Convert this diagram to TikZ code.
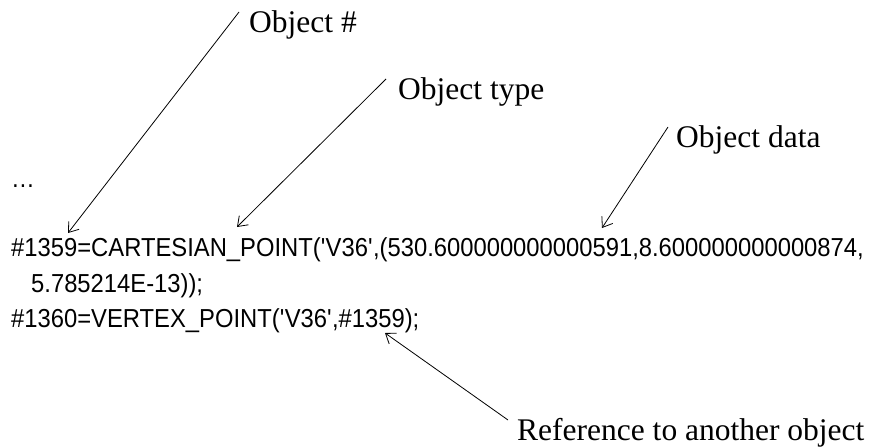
\documentclass[tikz,border=0pt]{standalone}
\usepackage{fontspec}
\setmainfont{Liberation Serif}
\newfontfamily\codefont[FakeStretch=0.915]{Liberation Sans}
\usetikzlibrary{arrows.meta}
\tikzset{
  lbl/.style={anchor=base west, inner sep=0pt, font=\fontsize{31.5}{31.5}\selectfont},
  code/.style={anchor=base west, inner sep=0pt, font=\codefont\fontsize{26}{26}\selectfont},
  callout/.style={line width=0.8pt, -{Straight Barb[length=9pt,width=13pt,line width=0.8pt]}}
}
\begin{document}
\begin{tikzpicture}[x=1pt,y=-1pt]
\useasboundingbox (0,0) rectangle (873,447);
% labels
\node[lbl] (lnum) at (249,32) {Object \#};
\node[lbl] (ltype) at (398,99) {Object type};
\node[lbl] (ldata) at (676,147) {Object data};
\node[lbl] (lref) at (517,440) {Reference to another object};
% code
\node[code] (dots) at (11,187) {…};
\node[code] (c1) at (11,256) {\#1359=CARTESIAN\_POINT(\textquotesingle V36\textquotesingle,(530.600000000000591,8.600000000000874,};
\node[code] (c2) at (31,292) {5.785214E-13));};
\node[code] (c3) at (11,327) {\#1360=VERTEX\_POINT(\textquotesingle V36\textquotesingle,\#1359);};
% connector ends
\coordinate (snum) at (239,12);
\coordinate (tnum) at (68,233);
\coordinate (stype) at (386,79);
\coordinate (ttype) at (237,227);
\coordinate (sdata) at (668,127);
\coordinate (tdata) at (602,228);
\coordinate (sref) at (508,420);
\coordinate (tref) at (385,333);
\draw[callout] (snum) -- (tnum);
\draw[callout] (stype) -- (ttype);
\draw[callout] (sdata) -- (tdata);
\draw[callout] (sref) -- (tref);
\end{tikzpicture}
\end{document}
